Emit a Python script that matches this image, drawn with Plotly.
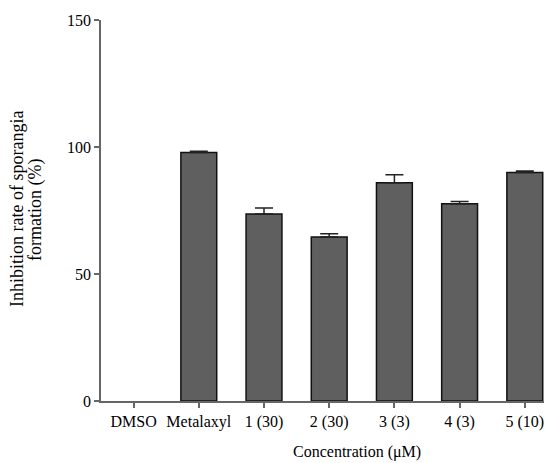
import plotly.graph_objects as go

categories = ["DMSO", "Metalaxyl", "1 (30)", "2 (30)", "3 (3)", "4 (3)", "5 (10)"]
values = [0, 97.8, 73.6, 64.6, 85.9, 77.7, 90.0]
errors = [0, 0.5, 2.4, 1.2, 3.2, 0.8, 0.6]
y_ticks = [0, 50, 100, 150]

FONT = "Liberation Serif"

# page has an 8px body margin; target plot area: x 101..552, y 20..401 (window px)
OFF = 8
W, H = 552 - OFF, 463 - OFF
L, T = 101 - OFF, 20 - OFF
B = H - (401 - OFF)
PW = W - L
PH = H - T - B

def px_x(x):
    return (x - OFF - L) / PW

def px_y(y):
    return (H - B - (y - OFF)) / PH

idx = list(range(len(categories)))
with_err = [i for i in idx if errors[i] > 0]
no_err = [i for i in idx if errors[i] == 0]

fig = go.Figure()
fig.add_trace(go.Bar(
    x=no_err, y=[values[i] for i in no_err], width=0.55,
    marker=dict(color="#5f5f5f", line=dict(color="#111111", width=0)),
    showlegend=False,
))
fig.add_trace(go.Bar(
    x=with_err, y=[values[i] for i in with_err], width=0.55,
    marker=dict(color="#5f5f5f", line=dict(color="#111111", width=1.5)),
    error_y=dict(type="data", array=[errors[i] for i in with_err],
                 arrayminus=[0] * len(with_err), symmetric=False,
                 color="#222222", thickness=1.5, width=9),
    showlegend=False,
))

fig.update_layout(
    barmode="overlay",
    width=W, height=H,
    margin=dict(l=L, r=0, t=T, b=B),
    plot_bgcolor="white", paper_bgcolor="white",
    font=dict(family=FONT, size=16, color="black"),
    xaxis=dict(
        range=[-0.5, -0.5 + PW / 65.2],
        tickmode="array", tickvals=idx, ticktext=categories,
        showline=True, linecolor="#666666", linewidth=1.5,
        ticks="outside", ticklen=5, tickcolor="#666666", tickwidth=1.5,
        showgrid=False, zeroline=False,
        tickfont=dict(family=FONT, size=16),
    ),
    yaxis=dict(
        range=[0, 150],
        tickmode="array", tickvals=y_ticks, ticktext=[str(v) for v in y_ticks],
        showline=True, linecolor="#666666", linewidth=1.5,
        ticks="outside", ticklen=5, tickcolor="#666666", tickwidth=1.5,
        showgrid=False, zeroline=False,
        tickfont=dict(family=FONT, size=16),
    ),
    annotations=[
        dict(text="Concentration (μM)", xref="paper", yref="paper",
             x=px_x(357), y=px_y(452), xanchor="center", yanchor="middle",
             showarrow=False, font=dict(family=FONT, size=16)),
        dict(text="Inhibition rate of sporangia", xref="paper", yref="paper",
             x=px_x(17), y=px_y(209), xanchor="center", yanchor="middle", textangle=-90,
             showarrow=False, font=dict(family=FONT, size=18)),
        dict(text="formation (%)", xref="paper", yref="paper",
             x=px_x(35), y=px_y(210), xanchor="center", yanchor="middle", textangle=-90,
             showarrow=False, font=dict(family=FONT, size=18)),
    ],
)

fig.write_html("out.html")
